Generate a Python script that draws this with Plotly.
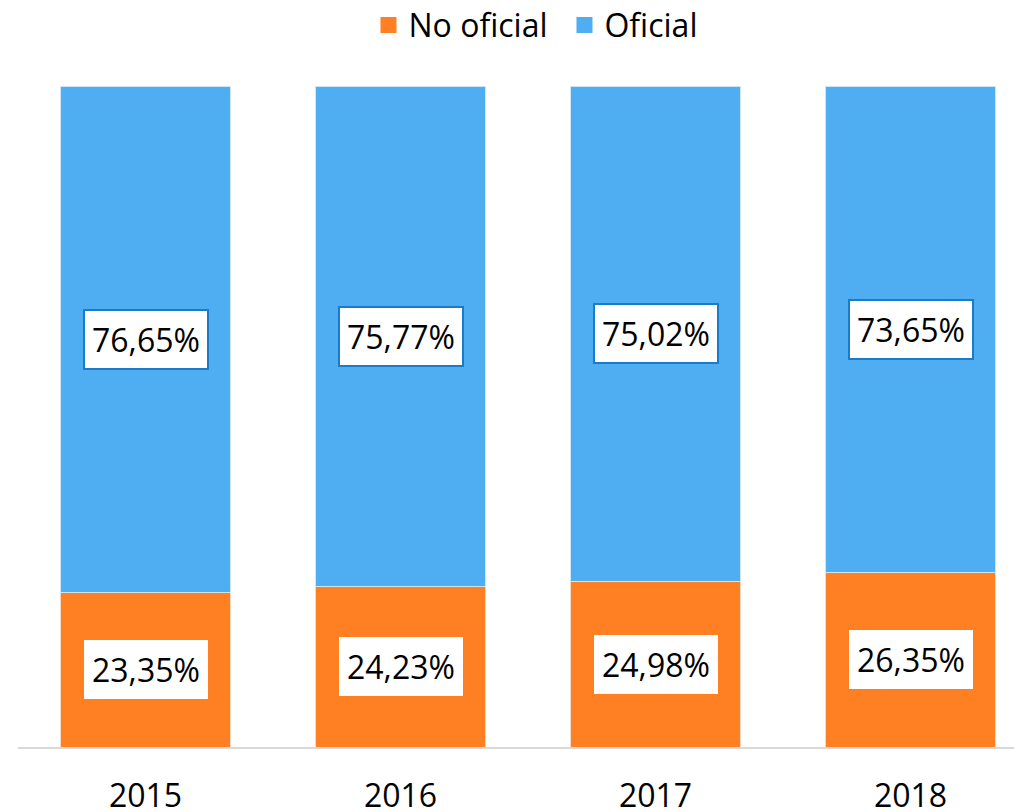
import plotly.graph_objects as go

years = ["2015", "2016", "2017", "2018"]
no_oficial = [23.35, 24.23, 24.98, 26.35]
oficial = [76.65, 75.77, 75.02, 73.65]
labels_no = ["23,35%", "24,23%", "24,98%", "26,35%"]
labels_of = ["76,65%", "75,77%", "75,02%", "73,65%"]

ORANGE = "#FF8022"
BLUE = "#4FADF2"
FONT = "Open Sans"
FS = 32

fig = go.Figure()
fig.add_trace(go.Bar(x=years, y=no_oficial, name="No oficial", showlegend=False,
                     marker=dict(color=ORANGE, line=dict(color="#f3d9c4", width=1))))
fig.add_trace(go.Bar(x=years, y=oficial, name="Oficial", showlegend=False,
                     marker=dict(color=BLUE, line=dict(color="#cfe6f8", width=1))))
# legend entries with larger square swatches
fig.add_trace(go.Scatter(x=[None], y=[None], mode="markers", name="No oficial",
                         marker=dict(symbol="square", size=20, color=ORANGE)))
fig.add_trace(go.Scatter(x=[None], y=[None], mode="markers", name="Oficial",
                         marker=dict(symbol="square", size=20, color=BLUE)))

anns = []
for i, y in enumerate(years):
    anns.append(dict(x=i, y=no_oficial[i] / 2, text=labels_no[i], showarrow=False,
                     font=dict(family=FONT, size=FS, color="black"), bgcolor="white",
                     borderwidth=0, borderpad=8, xref="x", yref="y"))
    anns.append(dict(x=i, y=no_oficial[i] + oficial[i] / 2, text=labels_of[i], showarrow=False,
                     font=dict(family=FONT, size=FS, color="black"), bgcolor="white",
                     bordercolor="#1a7bc9", borderwidth=2, borderpad=7, xref="x", yref="y"))

fig.update_layout(
    barmode="stack",
    bargap=1/3,
    width=1022, height=812,
    margin=dict(l=10, r=0, t=78, b=73, autoexpand=False),
    paper_bgcolor="white", plot_bgcolor="white",
    font=dict(family=FONT, size=FS, color="black"),
    legend=dict(orientation="h", x=0.54, xanchor="center", y=1.092, yanchor="middle",
                font=dict(family=FONT, size=FS), traceorder="normal", itemsizing="trace",
                entrywidth=151, entrywidthmode="pixels"),
    xaxis=dict(type="category", range=[-0.5, 3.4686], showline=True, linecolor="#d9d9d9",
               linewidth=2, ticks="", tickfont=dict(family=FONT, size=FS), showgrid=False,
               ticklabelstandoff=20),
    yaxis=dict(range=[0, 100], visible=False, showgrid=False),
    annotations=anns,
    showlegend=True,
)
fig.write_html("out.html")
